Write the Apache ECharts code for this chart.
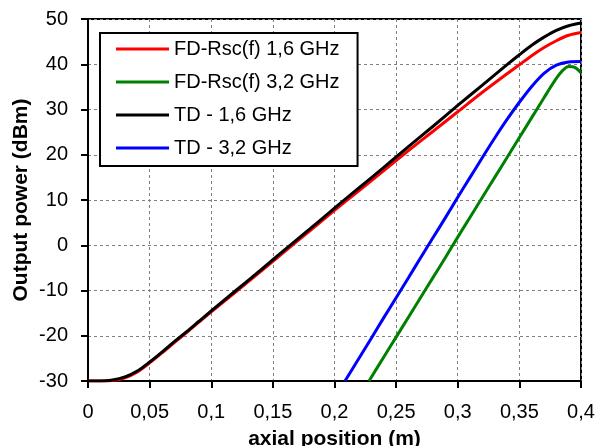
<!DOCTYPE html>
<html>
<head>
<meta charset="utf-8">
<script src="https://cdn.jsdelivr.net/npm/echarts@6/dist/echarts.min.js"></script>
<style>
html,body{margin:0;padding:0;background:#fff;}
#chart{width:599px;height:446px;}
</style>
</head>
<body>
<div id="chart"></div>
<script>
// ---- data ----
var seriesNames = ['FD-Rsc(f) 1,6 GHz', 'FD-Rsc(f) 3,2 GHz', 'TD - 1,6 GHz', 'TD - 3,2 GHz'];
var seriesColors = ['#ff0000', '#008000', '#000000', '#0000ff'];

var x16 = [0, 0.01, 0.02, 0.03, 0.04, 0.05, 0.06, 0.07, 0.08, 0.09, 0.10, 0.12, 0.14, 0.16, 0.18, 0.20, 0.22, 0.24, 0.26, 0.28, 0.30, 0.32, 0.34, 0.35, 0.36, 0.37, 0.38, 0.39, 0.40];
var fd16 = [-30, -30, -29.9, -29.3, -28.0, -26.0, -23.8, -21.5, -19.3, -17.0, -14.7, -10.3, -5.8, -1.3, 3.2, 7.7, 12.1, 16.5, 20.9, 25.2, 29.5, 33.8, 37.9, 39.9, 41.9, 43.7, 45.2, 46.4, 47.0];
var td16 = [-30, -30, -29.8, -29.1, -27.8, -25.8, -23.6, -21.3, -19.1, -16.8, -14.5, -10.0, -5.5, -0.9, 3.6, 8.2, 12.7, 17.2, 21.8, 26.3, 30.9, 35.4, 39.9, 42.1, 44.2, 46.0, 47.5, 48.5, 49.1];

var xTd32 = [0.2085, 0.22, 0.23, 0.24, 0.25, 0.26, 0.27, 0.28, 0.29, 0.30, 0.31, 0.32, 0.33, 0.34, 0.35, 0.36, 0.37, 0.38, 0.39, 0.40];
var td32 = [-30, -24.9, -20.5, -16.0, -11.6, -7.2, -2.7, 1.7, 6.1, 10.6, 15.0, 19.4, 23.7, 27.8, 31.6, 35.1, 38.0, 39.8, 40.5, 40.6];

var xFd32 = [0.228, 0.24, 0.25, 0.26, 0.27, 0.28, 0.29, 0.30, 0.31, 0.32, 0.33, 0.34, 0.35, 0.36, 0.37, 0.375, 0.38, 0.385, 0.39, 0.395, 0.40];
var fd32 = [-30, -24.7, -20.3, -15.9, -11.5, -7.1, -2.7, 1.8, 6.2, 10.6, 15.0, 19.4, 23.8, 28.2, 32.6, 34.8, 36.9, 38.6, 39.5, 39.3, 38.1];

var xTickLabels = ['0', '0,05', '0,1', '0,15', '0,2', '0,25', '0,3', '0,35', '0,4'];
var yTickLabels = ['-30', '-20', '-10', '0', '10', '20', '30', '40', '50'];

function pairs(xs, ys) {
  return xs.map(function (x, i) { return [x, ys[i]]; });
}

var FONT = 'Liberation Sans';
var chart = echarts.init(document.getElementById('chart'), null, {renderer: 'canvas'});

var seriesData = [pairs(x16, fd16), pairs(xFd32, fd32), pairs(x16, td16), pairs(xTd32, td32)];

chart.setOption({
  animation: false,
  backgroundColor: '#ffffff',
  grid: {
    left: 88, right: 18, top: 19, bottom: 65,
    containLabel: false,
    outerBoundsMode: 'none',
    show: true, borderColor: '#000', borderWidth: 2, backgroundColor: 'transparent'
  },
  legend: {
    left: 100, top: 33,
    orient: 'vertical',
    backgroundColor: '#fff',
    borderColor: '#000',
    borderWidth: 2,
    padding: [6, 18, 8, 16],
    icon: 'rect',
    itemWidth: 53,
    itemHeight: 3,
    itemGap: 13,
    selectedMode: false,
    textStyle: {fontFamily: FONT, fontSize: 20, color: '#000', lineHeight: 20},
    data: seriesNames
  },
  xAxis: {
    type: 'value', min: 0, max: 0.4, interval: 0.05,
    name: 'axial position (m)', nameLocation: 'middle', nameGap: 48,
    nameMoveOverlap: false,
    nameTextStyle: {fontFamily: FONT, fontSize: 21, fontWeight: 'bold', color: '#000'},
    axisLine: {show: true, onZero: false, lineStyle: {color: '#000', width: 2}},
    axisTick: {show: true, inside: false, length: 7, lineStyle: {color: '#000', width: 2}},
    axisLabel: {
      margin: 21, fontFamily: FONT, fontSize: 20, color: '#000',
      formatter: function (v) { return xTickLabels[Math.round(v / 0.05)]; }
    },
    splitLine: {show: true, lineStyle: {color: '#808080', width: 1, type: [3, 3]}}
  },
  yAxis: {
    type: 'value', min: -30, max: 50, interval: 10,
    name: 'Output power (dBm)', nameLocation: 'middle', nameGap: 56,
    nameMoveOverlap: false,
    nameTextStyle: {fontFamily: FONT, fontSize: 21, fontWeight: 'bold', color: '#000'},
    axisLine: {show: true, onZero: false, lineStyle: {color: '#000', width: 2}},
    axisTick: {show: true, inside: false, length: 7, lineStyle: {color: '#000', width: 2}},
    axisLabel: {
      margin: 20, fontFamily: FONT, fontSize: 20, color: '#000',
      formatter: function (v) { return yTickLabels[Math.round((v + 30) / 10)]; }
    },
    splitLine: {show: true, lineStyle: {color: '#808080', width: 1, type: [3, 3]}}
  },
  series: seriesNames.map(function (name, i) {
    return {
      name: name,
      type: 'line',
      data: seriesData[i],
      smooth: 0.3,
      symbol: 'none',
      showSymbol: false,
      color: seriesColors[i],
      lineStyle: {color: seriesColors[i], width: 3},
      z: 3 + i
    };
  })
});
</script>
</body>
</html>
